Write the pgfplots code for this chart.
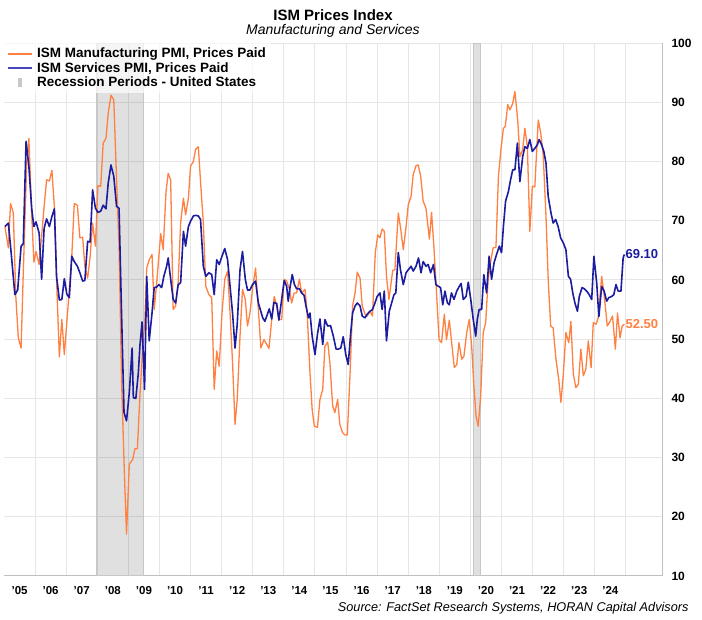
\documentclass[border=0pt]{standalone}
\usepackage{fontspec}
\setmainfont{Liberation Sans}
\usepackage{pgfplots}
\usepackage{pgfplotstable}
\pgfplotsset{compat=1.18}
\definecolor{mfg}{RGB}{255,128,64}
\definecolor{svc}{RGB}{28,28,160}
\definecolor{svcleg}{RGB}{70,70,190}
\definecolor{gridc}{RGB}{230,230,230}
\definecolor{axc}{RGB}{191,191,191}

\pgfplotstableread{
x y
2005.03 69.0
2005.14 65.4
2005.21 72.9
2005.30 71.3
2005.38 57.2
2005.46 50.2
2005.55 48.5
2005.62 61.2
2005.73 79.7
2005.80 83.9
2005.89 71.3
2005.96 63.0
2006.03 64.8
2006.13 62.6
2006.21 67.4
2006.29 72.4
2006.37 76.9
2006.46 76.7
2006.54 78.5
2006.62 72.4
2006.69 60.1
2006.78 47.0
2006.86 53.3
2006.94 47.4
2007.02 52.8
2007.10 58.4
2007.18 64.0
2007.26 72.9
2007.36 72.6
2007.44 67.1
2007.53 67.2
2007.60 62.3
2007.69 60.3
2007.77 64.0
2007.85 69.6
2007.94 65.7
2008.02 75.9
2008.11 75.8
2008.19 83.1
2008.28 83.9
2008.35 88.1
2008.44 91.2
2008.53 90.4
2008.62 76.9
2008.70 65.7
2008.78 43.2
2008.86 29.2
2008.94 17.1
2009.03 28.9
2009.14 29.7
2009.21 31.5
2009.29 31.5
2009.37 40.4
2009.46 48.3
2009.53 53.3
2009.59 62.0
2009.67 63.4
2009.76 64.3
2009.83 55.0
2009.91 59.5
2009.98 64.0
2010.04 67.8
2010.12 65.1
2010.21 74.9
2010.28 78.0
2010.36 76.9
2010.44 55.0
2010.52 55.6
2010.60 59.5
2010.68 69.6
2010.77 73.8
2010.84 71.0
2010.93 73.8
2011.00 79.2
2011.09 80.0
2011.16 82.0
2011.25 82.5
2011.32 76.6
2011.41 69.6
2011.49 58.9
2011.59 57.5
2011.68 57.0
2011.76 41.5
2011.84 48.0
2011.92 45.4
2012.01 54.4
2012.10 60.1
2012.19 61.5
2012.27 54.4
2012.35 46.0
2012.43 35.6
2012.50 39.8
2012.59 50.5
2012.67 58.4
2012.76 56.7
2012.83 52.2
2012.91 54.4
2012.99 58.4
2013.09 62.0
2013.18 55.0
2013.26 48.5
2013.36 49.9
2013.45 49.1
2013.52 48.4
2013.61 53.3
2013.69 57.2
2013.77 55.6
2013.84 53.3
2013.93 53.3
2014.01 60.1
2014.09 59.8
2014.18 58.4
2014.25 56.1
2014.33 57.8
2014.41 57.8
2014.50 60.1
2014.57 57.8
2014.68 58.4
2014.75 54.4
2014.84 44.3
2014.91 38.1
2014.98 35.3
2015.08 35.1
2015.16 39.8
2015.25 41.5
2015.32 48.8
2015.41 49.5
2015.48 46.0
2015.57 38.7
2015.64 37.6
2015.73 39.8
2015.80 35.6
2015.89 34.2
2015.97 33.8
2016.04 33.8
2016.13 44.3
2016.21 55.6
2016.29 57.8
2016.36 61.3
2016.45 60.3
2016.52 55.6
2016.61 54.2
2016.68 53.9
2016.77 54.7
2016.85 53.9
2016.94 64.6
2017.02 67.6
2017.09 67.1
2017.16 68.6
2017.23 68.2
2017.30 60.6
2017.38 56.7
2017.50 61.6
2017.57 61.7
2017.68 71.3
2017.76 68.5
2017.84 65.1
2017.93 69.0
2018.00 72.7
2018.09 74.1
2018.16 77.8
2018.25 79.3
2018.32 79.4
2018.40 77.5
2018.48 73.3
2018.57 72.1
2018.68 66.9
2018.75 71.4
2018.83 65.1
2018.91 57.8
2018.99 49.9
2019.07 49.4
2019.16 54.2
2019.23 49.9
2019.32 53.2
2019.39 49.7
2019.48 45.2
2019.56 45.7
2019.63 49.4
2019.72 46.6
2019.79 47.1
2019.88 51.1
2019.96 53.3
2020.04 48.8
2020.11 42.1
2020.18 37.0
2020.25 35.3
2020.33 40.4
2020.41 51.1
2020.49 52.8
2020.57 60.1
2020.66 63.4
2020.73 65.4
2020.82 65.5
2020.90 77.5
2020.98 82.0
2021.06 85.6
2021.12 85.9
2021.20 89.6
2021.27 88.7
2021.36 89.8
2021.43 91.8
2021.52 87.0
2021.59 80.8
2021.68 82.0
2021.75 85.6
2021.83 82.5
2021.91 68.2
2021.99 75.8
2022.07 75.7
2022.18 87.0
2022.26 84.8
2022.34 81.1
2022.43 70.7
2022.50 60.1
2022.58 52.2
2022.66 51.9
2022.75 46.6
2022.84 43.2
2022.91 39.3
2022.99 44.3
2023.07 51.1
2023.16 49.4
2023.23 53.0
2023.31 44.0
2023.39 41.8
2023.47 42.4
2023.55 48.3
2023.63 43.8
2023.71 44.9
2023.79 49.7
2023.88 45.2
2023.95 52.8
2024.04 52.5
2024.11 53.6
2024.22 60.6
2024.29 57.8
2024.36 54.4
2024.40 52.2
2024.49 53.0
2024.57 53.9
2024.66 48.3
2024.73 54.4
2024.81 50.2
2024.88 52.2
2024.95 52.5
}\mfgdata

\pgfplotstableread{
x y
2005.03 69.0
2005.14 69.6
2005.24 64.0
2005.35 57.5
2005.44 58.3
2005.55 65.7
2005.62 66.1
2005.71 83.4
2005.80 79.2
2005.89 72.1
2005.96 69.0
2006.03 69.8
2006.13 67.9
2006.21 60.1
2006.29 68.7
2006.37 70.3
2006.46 69.0
2006.54 70.7
2006.62 72.0
2006.69 60.6
2006.78 56.6
2006.86 56.7
2006.94 60.2
2007.02 57.6
2007.10 57.0
2007.18 64.0
2007.26 63.1
2007.36 62.3
2007.44 61.2
2007.53 59.8
2007.60 59.9
2007.69 66.5
2007.77 66.4
2007.85 75.2
2007.94 72.1
2008.02 71.4
2008.11 71.6
2008.19 72.6
2008.28 72.0
2008.35 76.3
2008.44 79.4
2008.53 77.5
2008.62 72.4
2008.70 72.1
2008.78 54.4
2008.86 37.6
2008.94 36.2
2009.03 41.0
2009.12 48.5
2009.16 40.1
2009.24 40.0
2009.32 44.3
2009.37 48.8
2009.44 52.9
2009.52 41.5
2009.59 60.6
2009.67 49.7
2009.76 54.4
2009.83 58.7
2009.91 58.8
2009.98 59.2
2010.07 58.7
2010.14 60.6
2010.23 62.3
2010.28 63.7
2010.36 60.1
2010.44 56.7
2010.52 56.1
2010.60 59.2
2010.68 59.5
2010.77 68.2
2010.84 65.7
2010.93 69.0
2011.00 69.9
2011.09 70.8
2011.16 70.9
2011.25 70.8
2011.32 70.2
2011.41 62.3
2011.49 60.6
2011.59 61.2
2011.68 60.9
2011.76 57.5
2011.84 63.4
2011.92 62.6
2012.01 64.0
2012.10 65.3
2012.19 63.4
2012.27 58.9
2012.35 54.4
2012.43 48.5
2012.50 52.5
2012.59 61.7
2012.67 64.8
2012.76 60.1
2012.83 58.3
2012.91 58.3
2012.99 59.2
2013.09 59.8
2013.18 56.1
2013.32 53.6
2013.39 53.0
2013.47 54.2
2013.53 55.1
2013.61 53.4
2013.68 56.2
2013.77 56.0
2013.84 53.2
2013.93 56.7
2014.01 59.9
2014.09 58.9
2014.14 56.4
2014.20 58.8
2014.27 60.9
2014.34 59.2
2014.41 58.5
2014.50 58.5
2014.57 57.8
2014.65 57.4
2014.71 55.6
2014.79 53.6
2014.84 54.4
2014.91 50.5
2015.00 47.4
2015.08 50.8
2015.16 53.4
2015.25 49.1
2015.32 53.3
2015.41 52.2
2015.50 52.3
2015.59 50.5
2015.68 48.3
2015.75 48.3
2015.83 48.5
2015.91 50.4
2015.99 47.4
2016.07 45.7
2016.15 51.1
2016.21 54.4
2016.29 55.6
2016.36 56.1
2016.45 55.6
2016.52 53.9
2016.61 53.6
2016.68 54.2
2016.77 54.7
2016.85 55.0
2016.93 56.1
2017.00 57.2
2017.09 57.8
2017.16 55.0
2017.23 58.1
2017.30 49.7
2017.39 54.7
2017.54 57.5
2017.60 57.8
2017.68 64.6
2017.75 61.7
2017.84 59.2
2017.93 61.2
2018.00 61.7
2018.09 62.3
2018.16 61.5
2018.25 62.3
2018.33 63.7
2018.41 61.2
2018.48 63.1
2018.57 62.3
2018.64 62.6
2018.72 61.2
2018.81 62.6
2018.89 59.2
2018.97 58.9
2019.04 58.7
2019.11 55.8
2019.18 58.1
2019.26 56.1
2019.32 55.8
2019.39 57.8
2019.47 56.7
2019.56 58.1
2019.64 58.9
2019.70 59.4
2019.77 56.7
2019.86 57.2
2019.93 59.6
2020.01 56.7
2020.09 53.3
2020.17 50.5
2020.22 53.3
2020.28 55.0
2020.36 55.0
2020.43 60.9
2020.52 57.8
2020.60 64.0
2020.68 60.1
2020.76 62.9
2020.84 64.3
2020.93 65.7
2021.00 64.6
2021.06 69.0
2021.13 73.3
2021.22 74.9
2021.29 76.9
2021.36 78.6
2021.43 78.6
2021.51 83.1
2021.59 76.6
2021.68 80.8
2021.75 82.5
2021.83 82.2
2021.91 83.7
2021.99 81.7
2022.07 82.2
2022.15 82.8
2022.21 83.7
2022.29 82.8
2022.36 81.7
2022.43 79.7
2022.50 74.1
2022.59 71.3
2022.66 69.6
2022.74 70.2
2022.82 69.0
2022.90 67.1
2022.99 66.2
2023.07 65.1
2023.15 60.6
2023.22 60.1
2023.29 57.8
2023.36 56.1
2023.44 54.7
2023.50 57.2
2023.59 58.7
2023.66 58.5
2023.74 58.1
2023.82 57.5
2023.90 56.7
2023.97 64.0
2024.06 59.5
2024.13 53.8
2024.22 58.9
2024.30 58.1
2024.38 56.4
2024.45 57.0
2024.54 57.2
2024.61 57.5
2024.68 59.2
2024.75 58.1
2024.84 58.1
2024.91 63.7
2024.95 64.3
}\svcdata

\begin{document}
\begin{tikzpicture}
\useasboundingbox (0pt,0pt) rectangle (702pt,620pt);
\begin{axis}[
  at={(4pt,44pt)}, anchor=south west,
  scale only axis, width=658pt, height=533pt,
  xmin=2005, xmax=2026.16, ymin=10, ymax=100,
  axis x line*=bottom, axis y line*=right,
  axis line style={draw=axc, line width=1pt},
  xtick={2005.5,2006.5,...,2024.5},
  xticklabels={'05,'06,'07,'08,'09,'10,'11,'12,'13,'14,'15,'16,'17,'18,'19,'20,'21,'22,'23,'24},
  minor xtick={2006,2007,...,2025},
  xminorgrids=true, ymajorgrids=true,
  minor grid style={gridc, line width=1pt},
  major grid style={gridc, line width=1pt},
  ytick={10,20,...,100},
  tick style={draw=none},
  /pgf/number format/assume math mode=true,
  x tick label style={font=\bfseries\fontsize{11.5}{12}\selectfont, yshift=-7pt},
  y tick label style={font=\bfseries\fontsize{12}{12}\selectfont, xshift=6pt},
  legend cell align=left,
  legend style={at={(0,1)}, anchor=north west, draw=none, fill=white, fill opacity=0.7, text opacity=1,
    font=\bfseries\fontsize{13.5}{15}\selectfont, inner xsep=3pt, inner ysep=3pt, row sep=-0.8pt},
]
\addplot[draw=black!22, line width=1pt, fill=black, fill opacity=0.12, forget plot]
  coordinates {(2007.96,10) (2009.50,10) (2009.50,100) (2007.96,100)} -- cycle;
\addplot[draw=black!22, line width=1pt, fill=black, fill opacity=0.12, forget plot]
  coordinates {(2020.09,10) (2020.33,10) (2020.33,100) (2020.09,100)} -- cycle;

\addplot[mfg, line width=1.3pt, line join=round,
  legend image code/.code={\path[draw=none,fill=none] (0pt,0pt) -- (28pt,0pt); \draw[draw=mfg, draw opacity=1, line width=1.7pt] (1pt,0pt) -- (25pt,0pt);}]
  table[x=x, y=y] {\mfgdata};
\addlegendentry{ISM Manufacturing PMI, Prices Paid}
\addplot[svc, line width=1.6pt, line join=round,
  legend image code/.code={\path[draw=none,fill=none] (0pt,0pt) -- (28pt,0pt); \draw[draw=svcleg, draw opacity=1, line width=1.9pt] (1pt,0pt) -- (25pt,0pt);}]
  table[x=x, y=y] {\svcdata};
\addlegendentry{ISM Services PMI, Prices Paid}
\addlegendimage{legend image code/.code={\path[draw=none,fill=none] (0pt,0pt) -- (28pt,0pt); \path[fill=black!22, fill opacity=1, draw=none] (11pt,-4.5pt) rectangle (15pt,4.5pt);}}
\addlegendentry{Recession Periods - United States}

\node[anchor=west, text=svc, font=\bfseries\fontsize{13}{13}\selectfont, inner sep=1pt] at (axis cs:2024.95,64.3) {69.10};
\node[anchor=west, text=mfg, font=\bfseries\fontsize{13}{13}\selectfont, inner sep=1pt] at (axis cs:2024.95,52.5) {52.50};
\end{axis}
\node[anchor=base, font=\bfseries\fontsize{15}{18}\selectfont] at (333pt,599pt) {ISM Prices Index};
\node[anchor=base, font=\itshape\fontsize{14}{16}\selectfont] at (333pt,585pt) {Manufacturing and Services};
\node[anchor=base east, font=\itshape\fontsize{12.7}{14}\selectfont] at (692pt,8pt) {Source: FactSet Research Systems, HORAN Capital Advisors};
\end{tikzpicture}
\end{document}
